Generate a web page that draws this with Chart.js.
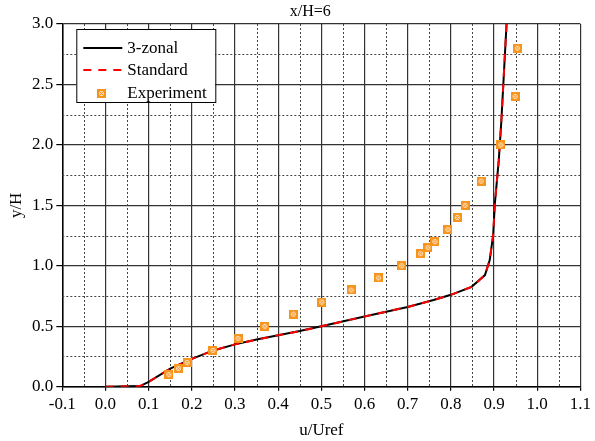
<!DOCTYPE html>
<html>
<head>
<meta charset="utf-8">
<script src="https://cdn.jsdelivr.net/npm/chart.js@4/dist/chart.umd.min.js"></script>
<style>
  html, body { margin: 0; padding: 0; background: #fff; }
  #wrap { width: 595px; height: 441px; position: relative; }
</style>
</head>
<body>
<div id="wrap"><canvas id="c" width="595" height="441"></canvas></div>
<script>
// ---- data ----
const chartTitle = 'x/H=6';
const xAxisTitle = 'u/Uref';
const yAxisTitle = 'y/H';

const zonalX = [0.0, 0.08, 0.1, 0.15, 0.2, 0.25, 0.3, 0.35, 0.4, 0.45, 0.5, 0.6, 0.7, 0.76, 0.8, 0.848, 0.879, 0.89, 0.898, 0.902, 0.911, 0.917, 0.929];
const zonalY = [0.0, 0.005, 0.04, 0.15, 0.23, 0.30, 0.35, 0.39, 0.425, 0.46, 0.50, 0.58, 0.66, 0.717, 0.76, 0.826, 0.923, 1.047, 1.254, 1.518, 1.874, 2.2, 3.0];

const standardX = [0.0, 0.08, 0.1, 0.15, 0.2, 0.25, 0.3, 0.35, 0.4, 0.45, 0.5, 0.6, 0.7, 0.76, 0.8, 0.848, 0.879, 0.89, 0.898, 0.902, 0.911, 0.917, 0.929];
const standardY = [0.0, 0.005, 0.04, 0.15, 0.23, 0.30, 0.35, 0.39, 0.425, 0.46, 0.50, 0.58, 0.66, 0.717, 0.76, 0.826, 0.923, 1.047, 1.254, 1.518, 1.874, 2.2, 3.0];

const expX = [0.147, 0.169, 0.189, 0.249, 0.307, 0.369, 0.435, 0.501, 0.569, 0.632, 0.686, 0.730, 0.747, 0.763, 0.793, 0.815, 0.833, 0.870, 0.916, 0.949, 0.954];
const expY = [0.1, 0.15, 0.2, 0.3, 0.4, 0.5, 0.6, 0.7, 0.8, 0.9, 1.0, 1.1, 1.15, 1.2, 1.3, 1.4, 1.5, 1.7, 2.0, 2.4, 2.8];

const seriesNames = ['3-zonal', 'Standard', 'Experiment'];

const xMin = -0.1, xMax = 1.1, xStep = 0.1;
const yMin = 0.0, yMax = 3.0, yStep = 0.5;
const xMinorTicks = [-0.05, 0.05, 0.15, 0.25, 0.35, 0.45, 0.55, 0.65, 0.75, 0.85, 0.95, 1.05];
const yMinorTicks = [0.25, 0.75, 1.25, 1.75, 2.25, 2.75];

// ---- helpers ----
const toPts = (xs, ys) => xs.map((x, i) => ({ x: x, y: ys[i] }));
const FONT = 'Liberation Serif, Times New Roman, serif';

function makeMarker() {
  const c = document.createElement('canvas');
  c.width = 9; c.height = 9;
  const g = c.getContext('2d');
  g.fillStyle = '#f7941d';
  g.fillRect(0, 0, 9, 9);
  g.fillStyle = '#fcd9b0';
  g.fillRect(2, 2, 5, 5);
  g.strokeStyle = '#f7941d';
  g.lineWidth = 1;
  g.beginPath();
  g.moveTo(2, 2); g.lineTo(7, 7);
  g.moveTo(7, 2); g.lineTo(2, 7);
  g.stroke();
  return c;
}
const marker = makeMarker();

const minorGrid = {
  id: 'minorGrid',
  beforeDatasetsDraw(chart) {
    const { ctx, chartArea: a, scales: { x, y } } = chart;
    ctx.save();
    ctx.strokeStyle = '#444';
    ctx.lineWidth = 1;
    ctx.setLineDash([2, 2]);
    xMinorTicks.forEach(v => {
      const px = Math.round(x.getPixelForValue(v)) + 0.5;
      ctx.beginPath(); ctx.moveTo(px, a.top); ctx.lineTo(px, a.bottom); ctx.stroke();
    });
    yMinorTicks.forEach(v => {
      const py = Math.round(y.getPixelForValue(v)) + 0.5;
      ctx.beginPath(); ctx.moveTo(a.left, py); ctx.lineTo(a.right, py); ctx.stroke();
    });
    ctx.restore();
  }
};

const topTitle = {
  id: 'topTitle',
  afterDraw(chart) {
    const ctx = chart.ctx;
    ctx.save();
    ctx.font = '16px ' + FONT;
    ctx.fillStyle = '#000';
    ctx.textAlign = 'center';
    ctx.textBaseline = 'middle';
    ctx.fillText(chartTitle, chart.chartArea.left + 248, 12);
    ctx.restore();
  }
};

const boxLegend = {
  id: 'boxLegend',
  afterDraw(chart) {
    const ctx = chart.ctx;
    const a = chart.chartArea;
    const bx = a.left + 14, by = a.top + 5, bw = 139, bh = 73;
    ctx.save();
    ctx.fillStyle = '#fff';
    ctx.fillRect(bx, by, bw, bh);
    ctx.strokeStyle = '#000';
    ctx.lineWidth = 1;
    ctx.setLineDash([]);
    ctx.strokeRect(bx + 0.5, by + 0.5, bw, bh);
    const ds = chart.data.datasets;
    const rows = [by + 19, by + 41, by + 64];
    const sx0 = bx + 7, sx1 = bx + 46, tx = bx + 51;
    ctx.font = '17px ' + FONT;
    ctx.textBaseline = 'middle';
    ctx.textAlign = 'left';
    ds.forEach((d, i) => {
      const yy = rows[i];
      if (i < 2) {
        ctx.strokeStyle = d.borderColor;
        ctx.lineWidth = d.borderWidth;
        ctx.setLineDash(d.borderDash || []);
        ctx.beginPath(); ctx.moveTo(sx0, yy); ctx.lineTo(sx1, yy); ctx.stroke();
        ctx.setLineDash([]);
      } else {
        ctx.drawImage(marker, Math.round((sx0 + sx1) / 2 - 4.5) - 1, Math.round(yy - 4.5));
      }
      ctx.fillStyle = '#000';
      ctx.fillText(d.label, tx, yy + 1);
    });
    ctx.restore();
  }
};

new Chart(document.getElementById('c'), {
  type: 'scatter',
  data: {
    datasets: [
      {
        label: seriesNames[0],
        data: toPts(zonalX, zonalY),
        showLine: true,
        borderColor: '#000',
        borderWidth: 2,
        pointRadius: 0,
        fill: false,
        tension: 0,
        order: 3
      },
      {
        label: seriesNames[1],
        data: toPts(standardX, standardY),
        showLine: true,
        borderColor: '#ff0000',
        borderWidth: 2,
        borderDash: [8, 7],
        pointRadius: 0,
        fill: false,
        tension: 0,
        order: 2
      },
      {
        label: seriesNames[2],
        data: toPts(expX, expY),
        showLine: false,
        pointStyle: marker,
        pointRadius: 4.5,
        borderColor: '#f7941d',
        backgroundColor: '#f7941d',
        order: 1
      }
    ]
  },
  options: {
    responsive: false,
    animation: false,
    events: [],
    layout: { padding: { top: 24, right: 8, left: 0, bottom: 0 } },
    plugins: {
      legend: { display: false },
      title: { display: false },
      tooltip: { enabled: false }
    },
    scales: {
      x: {
        type: 'linear',
        min: xMin, max: xMax,
        afterFit(s) { s.height = 54.3; },
        ticks: {
          stepSize: xStep,
          autoSkip: false,
          maxRotation: 0,
          padding: 4,
          color: '#000',
          font: { family: FONT, size: 17 },
          callback: v => Number(v).toFixed(1)
        },
        grid: {
          color: '#333',
          lineWidth: 1.2,
          tickColor: '#000',
          tickLength: 4,
          drawTicks: true
        },
        border: { color: '#000', width: 1.5 },
        title: {
          display: true,
          text: xAxisTitle,
          color: '#000',
          font: { family: FONT, size: 17 },
          padding: { top: 0, bottom: 0 }
        }
      },
      y: {
        type: 'linear',
        min: yMin, max: yMax,
        afterFit(s) { s.width = 62.3; },
        ticks: {
          stepSize: yStep,
          autoSkip: false,
          padding: 3,
          color: '#000',
          font: { family: FONT, size: 17 },
          callback: v => Number(v).toFixed(1)
        },
        grid: {
          color: '#333',
          lineWidth: 1.2,
          tickColor: '#000',
          tickLength: 6,
          drawTicks: true
        },
        border: { color: '#000', width: 1.5 },
        title: {
          display: true,
          text: yAxisTitle,
          color: '#000',
          font: { family: FONT, size: 17 },
          padding: { top: 6, bottom: 0 }
        }
      }
    }
  },
  plugins: [minorGrid, topTitle, boxLegend]
});
</script>
</body>
</html>
